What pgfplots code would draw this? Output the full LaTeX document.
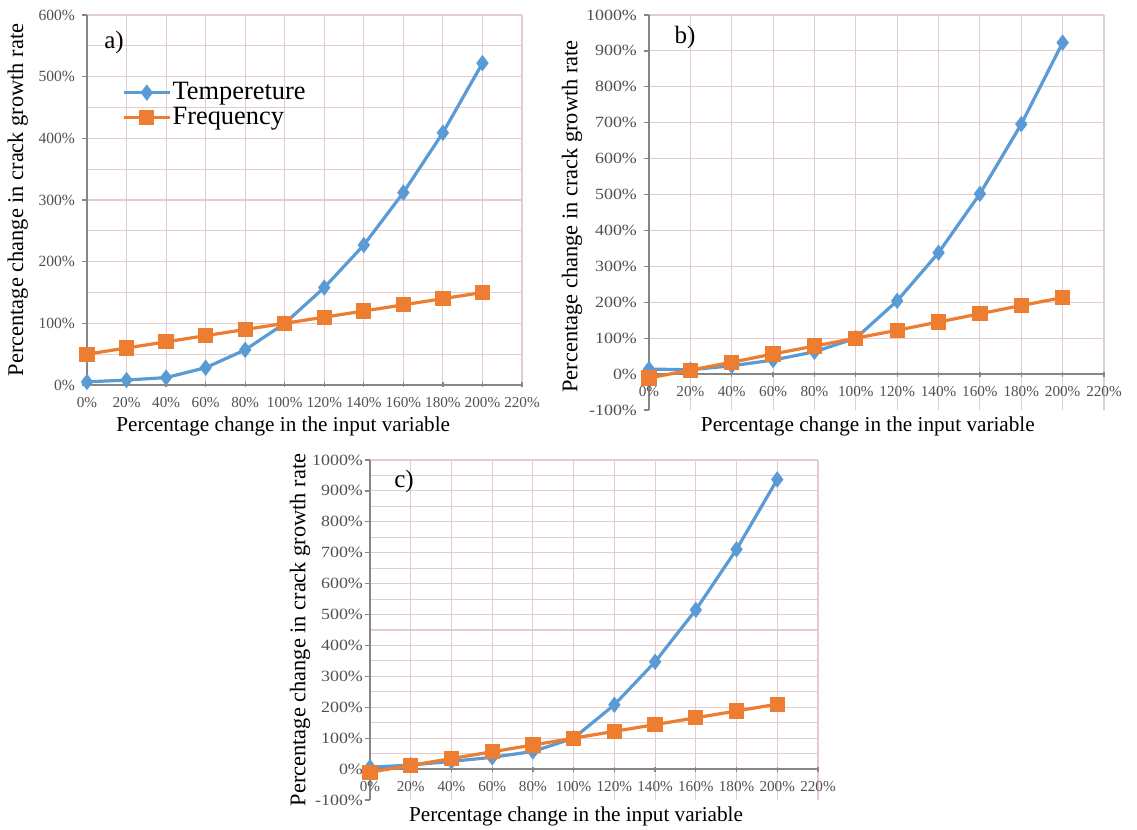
\documentclass[border=0pt]{standalone}
\usepackage{fontspec}
\setmainfont{Liberation Serif}
\usepackage{pgfplots}
\pgfplotsset{compat=1.18}
\definecolor{tblue}{RGB}{91,155,213}
\definecolor{forange}{RGB}{237,125,49}
\definecolor{gridpink}{RGB}{228,204,206}
\definecolor{axgray}{RGB}{134,134,134}
\definecolor{ticktext}{RGB}{80,80,80}
\newcommand{\wt}[1]{\scalebox{1.15}[1]{#1}}

\pgfplotsset{
  panel/.style={
    scale only axis,
    xmin=0, xmax=220,
    xtick={0,20,...,220},
    xticklabels={0\%,20\%,40\%,60\%,80\%,100\%,120\%,140\%,160\%,180\%,200\%,220\%},
    axis y line=left,
    tick style={draw=axgray, line width=0.6pt},
    major tick length=2.5pt,
    minor tick length=0pt,
    tick align=outside,
    xmajorgrids=true,
    ymajorgrids=false,
    yminorgrids=true,
    grid style={draw=gridpink, line width=0.55pt},
    minor grid style={draw=gridpink, line width=0.55pt},
    major grid style={draw=gridpink, line width=0.55pt},
    hide obscured x ticks=false,
    hide obscured y ticks=false,
    xticklabel style={font=\fontsize{7.6}{8}\selectfont, text=ticktext, yshift=-1.5pt},
    yticklabel style={font=\fontsize{7.8}{8}\selectfont, text=ticktext},
    xlabel={Percentage change in the input variable},
    ylabel={Percentage change in crack growth rate},
    clip=false,
  },
  noarrows/.style={
    axis line style={-, draw=axgray, line width=0.7pt},
    every inner x axis line/.append style={-},
    every outer x axis line/.append style={-},
    every inner y axis line/.append style={-},
    every outer y axis line/.append style={-},
  },
  tline/.style={tblue, line width=1.6pt, mark=diamond*, mark size=2.8pt, mark options={solid}},
  fline/.style={forange, line width=1.6pt, mark=square*, mark size=3pt, mark options={solid}},
}

\begin{document}
\begin{tikzpicture}
\useasboundingbox (0pt,0pt) rectangle (568.5pt,415pt);

% ---------- a) ----------
\begin{axis}[panel,
  at={(43.5pt,222.5pt)}, anchor=south west,
  width=217.5pt, height=185pt,
  axis x line=bottom,
  noarrows,
  ymin=0, ymax=600,
  ytick={0,100,...,600},
  yticklabels={0\%,100\%,200\%,300\%,400\%,500\%,600\%},
  minor ytick={0,50,...,600},
  xlabel style={at={(axis description cs:0.451,-0.127)}, anchor=base, font=\fontsize{10.6}{12}\selectfont},
  ylabel style={at={(axis description cs:-0.159,0.5)}, anchor=center, font=\fontsize{11.2}{12}\selectfont},
  legend style={at={(axis description cs:0.080,0.822)}, anchor=north west,
    draw=none, fill=none, inner sep=0pt, row sep=1pt,
    nodes={inner sep=0.6pt},
    font=\fontsize{13.2}{13}\selectfont},
  legend cell align=left,
  legend image code/.code={\draw[mark repeat=2,mark phase=2] plot coordinates {(0pt,0pt) (11.5pt,0pt) (23pt,0pt)};},
]
\addplot[tline] coordinates {(0,5)(20,8)(40,12)(60,28)(80,57)(100,100)(120,158)(140,227)(160,312)(180,409)(200,522)};
\addlegendentry{Tempereture}
\addplot[fline] coordinates {(0,50)(20,60)(40,70)(60,80)(80,90)(100,100)(120,110)(140,120)(160,130)(180,140)(200,150)};
\addlegendentry{Frequency}
\node[font=\fontsize{12.5}{13}\selectfont] at (axis cs:13.7,555) {a)};
\end{axis}

% ---------- b) ----------
\begin{axis}[panel,
  at={(324.5pt,210pt)}, anchor=south west,
  width=227.5pt, height=197.5pt,
  axis x line=middle,
  noarrows,
  ymin=-100, ymax=1000,
  ytick={-100,0,100,...,1000},
  yticklabels={\wt{-100\%},\wt{0\%},\wt{100\%},\wt{200\%},\wt{300\%},\wt{400\%},\wt{500\%},\wt{600\%},\wt{700\%},\wt{800\%},\wt{900\%},\wt{1000\%}},
  minor ytick={0,100,...,1000},
  xlabel style={at={(axis description cs:0.481,-0.0556)}, anchor=base, font=\fontsize{10.6}{12}\selectfont},
  ylabel style={at={(axis description cs:-0.169,0.49)}, anchor=center, font=\fontsize{11.2}{12}\selectfont},
]
\addplot[tline] coordinates {(0,14)(20,12)(40,23)(60,39)(80,62)(100,100)(120,204)(140,338)(160,502)(180,696)(200,923)};
\addplot[fline] coordinates {(0,-11)(20,11)(40,33)(60,56)(80,78)(100,100)(120,122)(140,145)(160,168)(180,191)(200,213)};
\node[font=\fontsize{12.5}{13}\selectfont] at (axis cs:17.4,936) {b)};
\end{axis}

% ---------- c) ----------
\begin{axis}[panel,
  at={(185pt,15pt)}, anchor=south west,
  width=224pt, height=170pt,
  axis x line=middle,
  noarrows,
  ymin=-100, ymax=1000,
  ytick={-100,0,100,...,1000},
  yticklabels={\wt{-100\%},\wt{0\%},\wt{100\%},\wt{200\%},\wt{300\%},\wt{400\%},\wt{500\%},\wt{600\%},\wt{700\%},\wt{800\%},\wt{900\%},\wt{1000\%}},
  yticklabel style={xshift=2.5pt},
  minor ytick={0,50,...,1000},
  xlabel style={at={(axis description cs:0.46,-0.0647)}, anchor=base, font=\fontsize{10.6}{12}\selectfont},
  ylabel style={at={(axis description cs:-0.156,0.5)}, anchor=center, font=\fontsize{11.2}{12}\selectfont},
]
\addplot[tline] coordinates {(0,6)(20,13)(40,25)(60,38)(80,57)(100,100)(120,208)(140,347)(160,515)(180,711)(200,937)};
\addplot[fline] coordinates {(0,-10)(20,12)(40,34)(60,56)(80,78)(100,100)(120,122)(140,144)(160,166)(180,188)(200,210)};
\node[font=\fontsize{12.5}{13}\selectfont] at (axis cs:16.7,929) {c)};
\end{axis}
\end{tikzpicture}
\end{document}
